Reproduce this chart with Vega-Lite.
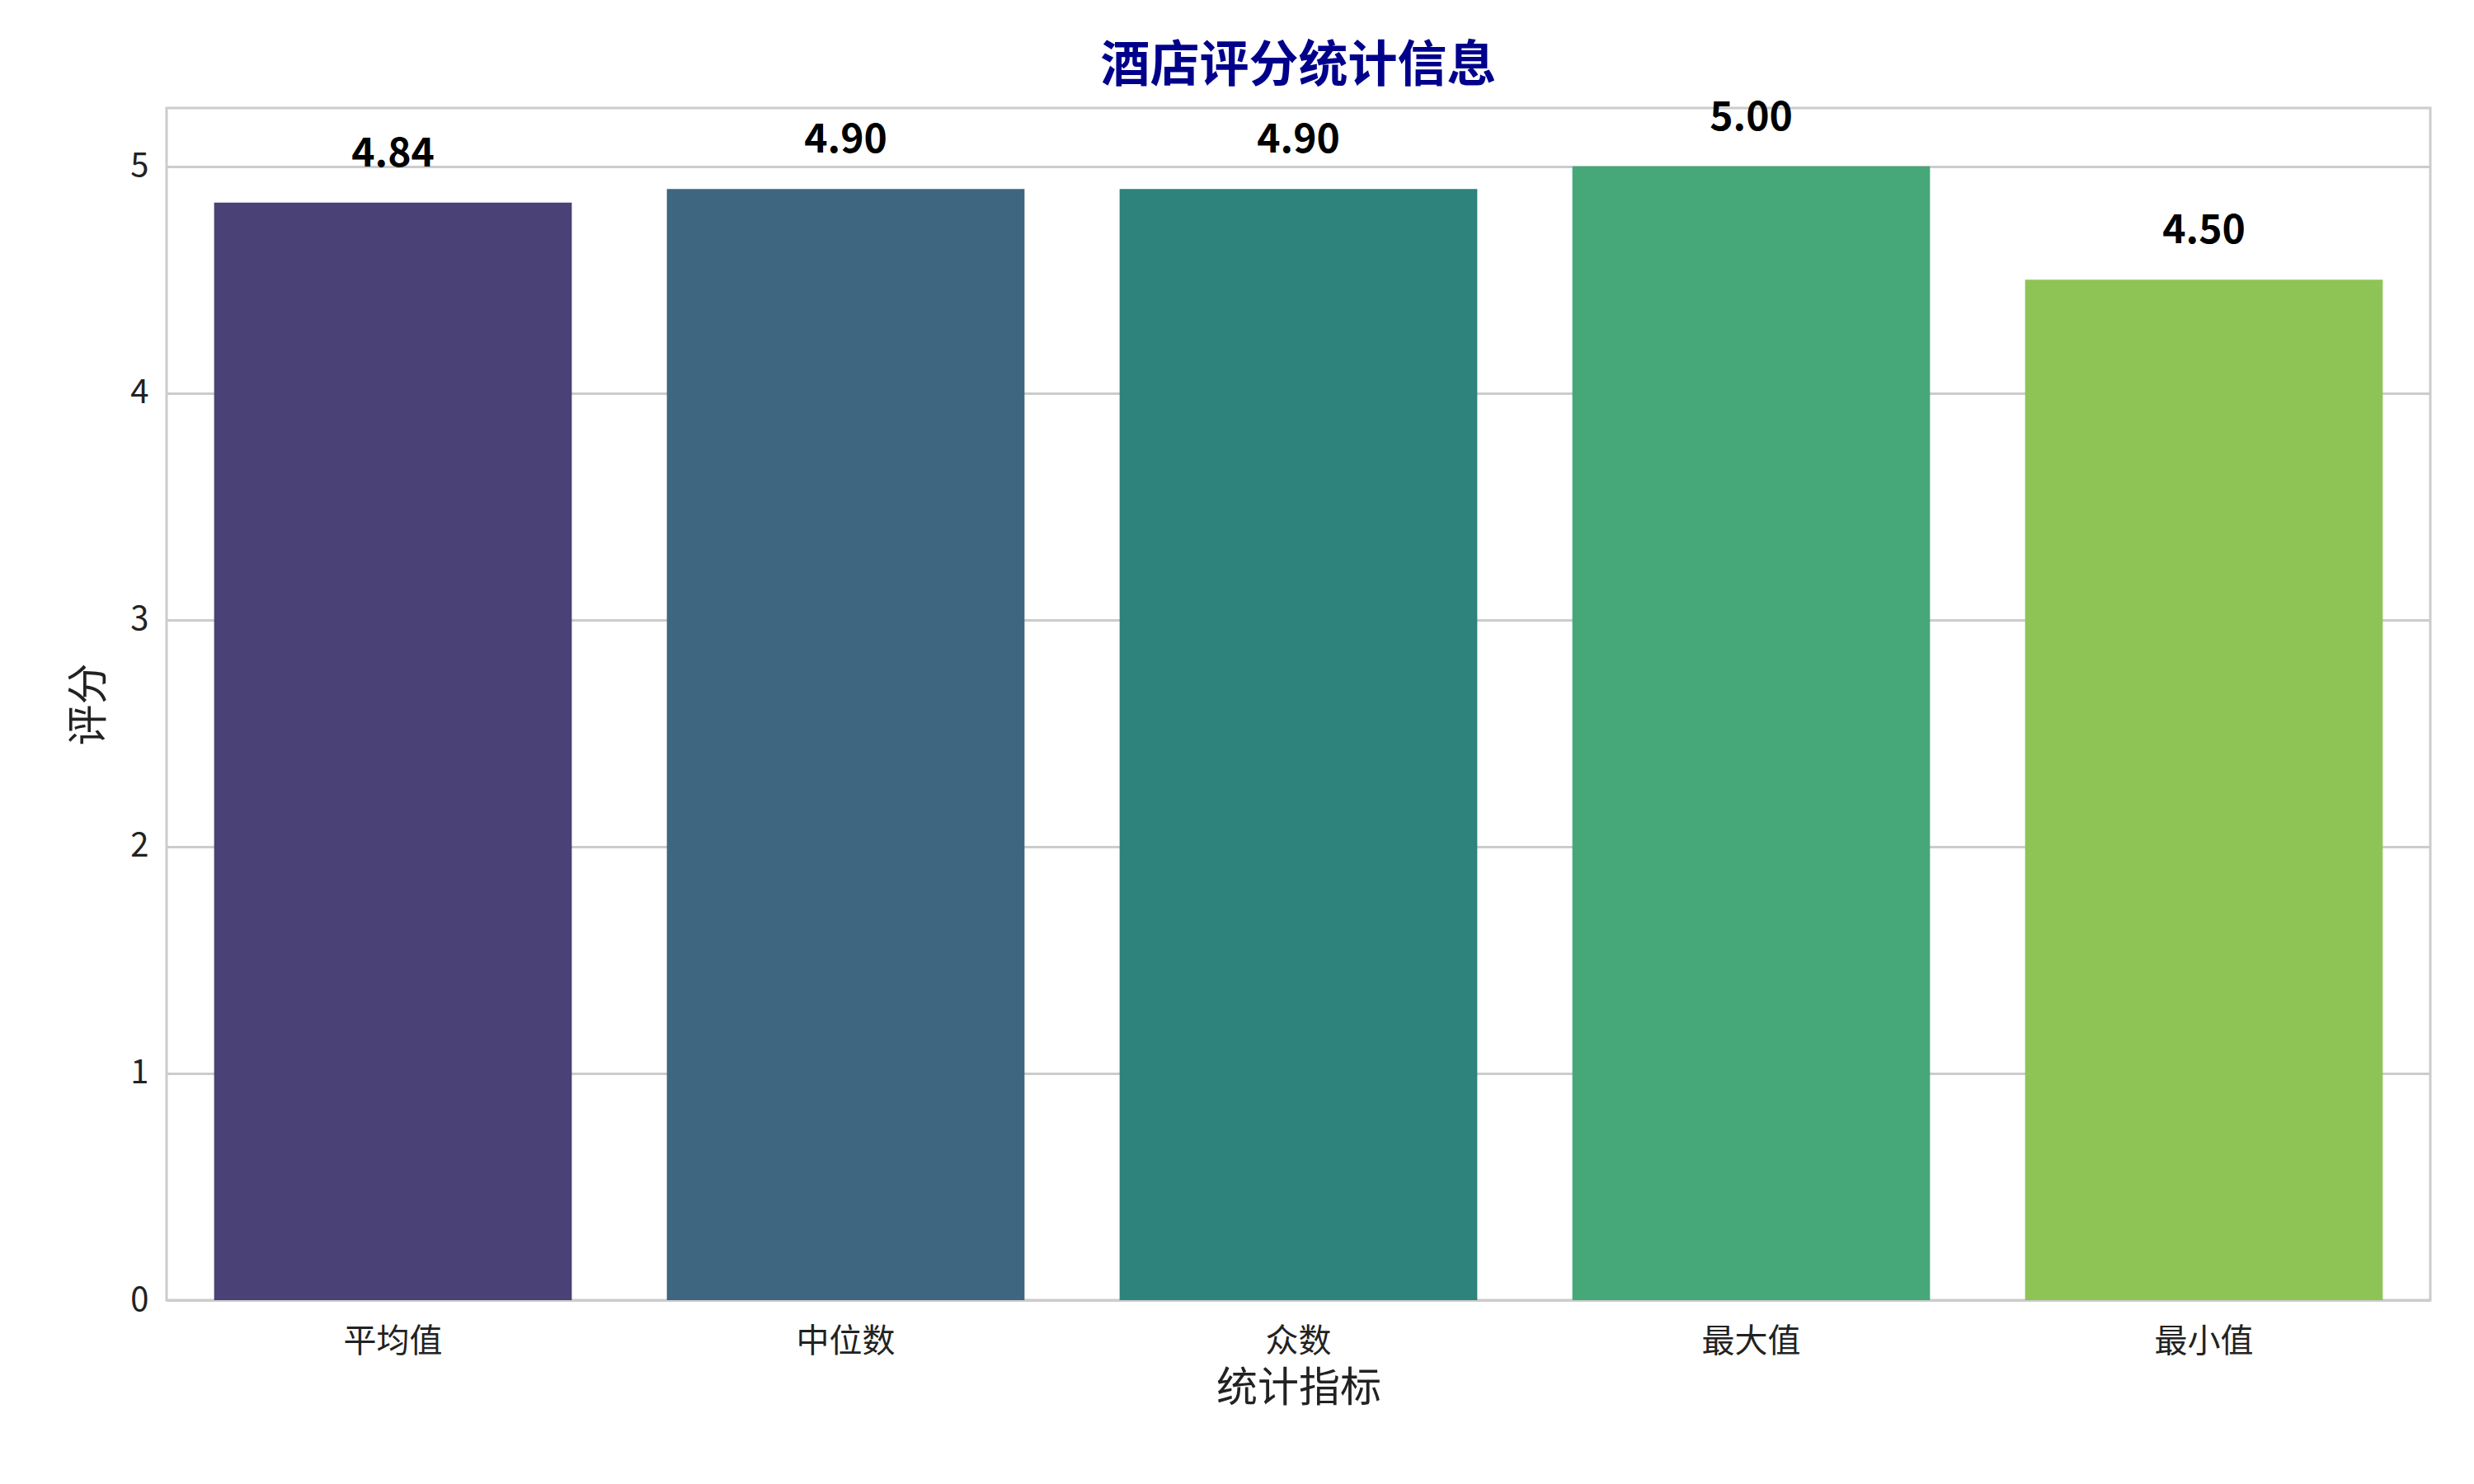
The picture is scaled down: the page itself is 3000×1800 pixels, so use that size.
{
  "$schema": "https://vega.github.io/schema/vega-lite/v6.json",
  "autosize": "none",
  "width": 2745,
  "height": 1446,
  "padding": {"left": 202, "top": 131, "right": 53, "bottom": 223},
  "background": "white",
  "config": {
    "font": "Noto Sans CJK SC",
    "view": {"stroke": "#cccccc", "strokeWidth": 3},
    "axis": {"domain": false, "ticks": false, "labelFont": "Noto Sans CJK SC", "titleFont": "Noto Sans CJK SC", "labelFontSize": 40, "titleFontSize": 50, "labelColor": "#222222", "titleColor": "#222222", "titleFontWeight": "normal", "gridColor": "#cccccc", "gridWidth": 3}
  },
  "title": {"text": "酒店评分统计信息", "fontSize": 60, "fontWeight": "bold", "color": "#00008b", "font": "Noto Sans CJK SC", "offset": 8},
  "data": {
    "values": [
      {"指标": "平均值", "评分": 4.84, "label": "4.84"},
      {"指标": "中位数", "评分": 4.9, "label": "4.90"},
      {"指标": "众数", "评分": 4.9, "label": "4.90"},
      {"指标": "最大值", "评分": 5.0, "label": "5.00"},
      {"指标": "最小值", "评分": 4.5, "label": "4.50"}
    ]
  },
  "encoding": {
    "x": {"field": "指标", "type": "nominal", "sort": null, "title": "统计指标", "scale": {"paddingInner": 0.21, "paddingOuter": 0.105}, "axis": {"labelAngle": 0, "labelPadding": 30, "titlePadding": 12, "grid": false}},
    "y": {"field": "评分", "type": "quantitative", "title": "评分", "scale": {"domain": [0, 5.257], "nice": false}, "axis": {"values": [0, 1, 2, 3, 4, 5], "labelPadding": 22, "titlePadding": 24, "grid": true}}
  },
  "layer": [
    {
      "mark": {"type": "bar"},
      "encoding": {
        "color": {"field": "指标", "type": "nominal", "sort": null, "legend": null, "scale": {"range": ["#4a4177", "#3e6680", "#2e837c", "#46a878", "#8ec456"]}}
      }
    },
    {
      "mark": {"type": "text", "baseline": "bottom", "dy": -34, "fontSize": 48, "fontWeight": "bold", "color": "black"},
      "encoding": {"text": {"field": "label"}}
    }
  ]
}
